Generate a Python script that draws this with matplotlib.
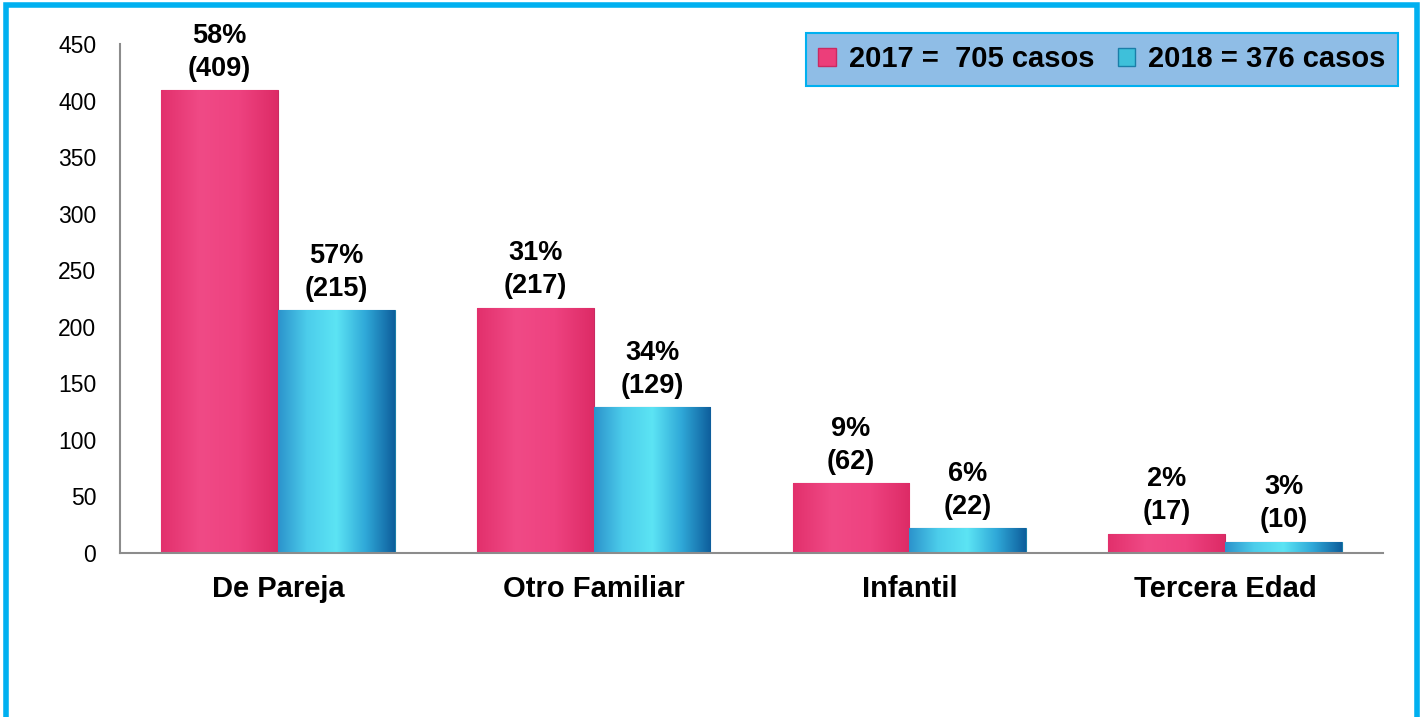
import matplotlib.pyplot as plt
import numpy as np
from matplotlib.patches import Rectangle, Patch
from matplotlib.colors import LinearSegmentedColormap

plt.rcParams["font.family"] = ["Liberation Sans", "DejaVu Sans"]

categorias = ["De Pareja", "Otro Familiar", "Infantil", "Tercera Edad"]
casos_2017 = [409, 217, 62, 17]
casos_2018 = [215, 129, 22, 10]
pct_2017 = ["58%", "31%", "9%", "2%"]
pct_2018 = ["57%", "34%", "6%", "3%"]
leyenda = ["2017 =  705 casos", "2018 = 376 casos"]

rosa = "#EC3E7A"
celeste = "#2AA6D6"

cmap_rosa = LinearSegmentedColormap.from_list(
    "rosa", ["#E2306C", "#F04A86", "#EE4280", "#DD2B66"])
cmap_cel = LinearSegmentedColormap.from_list(
    "cel", ["#2C93CC", "#4CCDEB", "#5CE4F4", "#2FA8D8", "#0E5E9C"])

fig = plt.figure(figsize=(14.25, 7.17), dpi=100)
ax = fig.add_axes([0.0842, 0.2287, 0.8863, 0.7099])

x = range(len(categorias))
w = 0.37
b1 = ax.bar([i - w / 2 for i in x], casos_2017, w, color=rosa,
            edgecolor="#C92A62", linewidth=0.8)
b2 = ax.bar([i + w / 2 for i in x], casos_2018, w, color=celeste,
            edgecolor="#1A7EA8", linewidth=0.8)

# degradado sobre cada barra
grad = np.linspace(0, 1, 256).reshape(1, -1)
for barras, cm in [(b1, cmap_rosa), (b2, cmap_cel)]:
    for bar in barras:
        x0, y0 = bar.get_x(), bar.get_y()
        im = ax.imshow(grad, cmap=cm, aspect="auto", zorder=2.1,
                       extent=[x0, x0 + bar.get_width(), y0, y0 + bar.get_height()])
        im.set_clip_path(bar)

for barras, vals, pcts in [(b1, casos_2017, pct_2017), (b2, casos_2018, pct_2018)]:
    for bar, v, p in zip(barras, vals, pcts):
        ax.annotate(f"{p}\n({v})", (bar.get_x() + bar.get_width() / 2, v),
                    xytext=(0, 6), textcoords="offset points",
                    ha="center", va="bottom", fontsize=19.5, fontweight="bold",
                    linespacing=1.35, zorder=5)

ax.set_xlim(-0.5, 3.5)
ax.set_ylim(0, 450)
ax.set_yticks(range(0, 451, 50))
ax.set_xticks(list(x))
ax.set_xticklabels(categorias, fontsize=21, fontweight="bold")
ax.tick_params(axis="y", length=0, pad=17, labelsize=16.5)
ax.tick_params(axis="x", length=0, pad=16)
for s in ["top", "right"]:
    ax.spines[s].set_visible(False)
ax.spines["left"].set_color("#8C8C8C")
ax.spines["bottom"].set_color("#8C8C8C")
ax.spines["left"].set_linewidth(1.5)
ax.spines["bottom"].set_linewidth(1.5)

handles = [Patch(facecolor=rosa, edgecolor="#C92A62"),
           Patch(facecolor="#3EC0DA", edgecolor="#1A7EA8")]
leg = ax.legend(handles, leyenda, loc="upper right", ncol=2,
                bbox_to_anchor=(1398 / 1425, 1 - 33 / 717),
                bbox_transform=fig.transFigure,
                prop={"size": 21, "weight": "bold"}, frameon=True,
                fancybox=False, handlelength=0.6, handleheight=0.6,
                handletextpad=0.45, columnspacing=0.8, borderpad=0.42,
                borderaxespad=0)
leg.get_frame().set_facecolor("#8FBDE6")
leg.get_frame().set_edgecolor("#00B0F0")
leg.get_frame().set_linewidth(1.5)
leg.get_frame().set_alpha(1)

fig.patches.append(Rectangle((6 / 1425, -0.05), 1411 / 1425, 1.05 - 5 / 717,
                             transform=fig.transFigure, fill=False,
                             edgecolor="#00B0F0", linewidth=4))

fig.savefig("out.png", dpi=100)
